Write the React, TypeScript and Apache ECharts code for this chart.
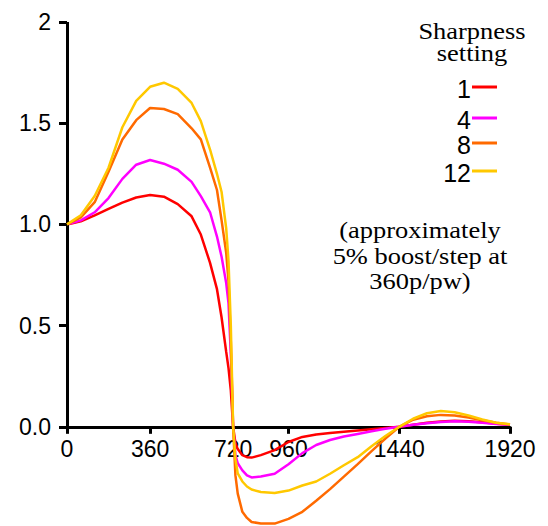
import React, { useEffect, useRef } from "react";
import * as echarts from "echarts";

// ---- data ----
const xValues = [0, 60, 120, 180, 240, 300, 360, 420, 480, 540, 580, 620, 650, 670, 690, 700, 710, 720, 730, 740, 760, 780, 800, 840, 900, 960, 1020, 1080, 1140, 1200, 1260, 1320, 1380, 1440, 1500, 1560, 1620, 1680, 1740, 1800, 1860, 1920];

const sharp1 = [1.0, 1.015, 1.045, 1.077, 1.108, 1.133, 1.145, 1.137, 1.1, 1.04, 0.95, 0.81, 0.68, 0.54, 0.37, 0.29, 0.18, 0.0, -0.08, -0.11, -0.14, -0.15, -0.152, -0.14, -0.115, -0.075, -0.05, -0.038, -0.03, -0.024, -0.018, -0.012, -0.006, 0.0, 0.01, 0.02, 0.026, 0.03, 0.028, 0.022, 0.015, 0.01];
const sharp4 = [1.0, 1.02, 1.06, 1.13, 1.225, 1.295, 1.318, 1.3, 1.27, 1.21, 1.14, 1.06, 0.94, 0.84, 0.71, 0.61, 0.36, 0.0, -0.14, -0.18, -0.215, -0.24, -0.25, -0.245, -0.232, -0.185, -0.13, -0.09, -0.065, -0.048, -0.035, -0.022, -0.01, 0.0, 0.01, 0.018, 0.024, 0.027, 0.025, 0.02, 0.014, 0.01];
const sharp8 = [1.0, 1.035, 1.11, 1.26, 1.42, 1.515, 1.575, 1.57, 1.545, 1.475, 1.42, 1.28, 1.17, 1.02, 0.86, 0.72, 0.42, 0.0, -0.24, -0.33, -0.42, -0.45, -0.47, -0.478, -0.478, -0.455, -0.42, -0.365, -0.308, -0.246, -0.184, -0.12, -0.058, 0.0, 0.035, 0.052, 0.059, 0.056, 0.046, 0.032, 0.02, 0.012];
const sharp12 = [1.0, 1.045, 1.14, 1.28, 1.48, 1.61, 1.68, 1.7, 1.67, 1.6, 1.51, 1.37, 1.25, 1.16, 0.98, 0.82, 0.5, 0.0, -0.16, -0.23, -0.27, -0.295, -0.31, -0.322, -0.327, -0.315, -0.29, -0.27, -0.232, -0.19, -0.15, -0.096, -0.045, 0.0, 0.04, 0.067, 0.078, 0.072, 0.056, 0.036, 0.02, 0.013];

const seriesNames = ["1", "4", "8", "12"];
const seriesValues = [sharp1, sharp4, sharp8, sharp12];
const seriesColors = ["#ff0000", "#ff00ff", "#ff6a00", "#ffc800"];

const xTickValues = [0, 360, 720, 960, 1440, 1920];
const yTickValues = [0, 0.5, 1, 1.5, 2];
const yMin = -0.49;
const yMax = 2;

const legendTitle = "Sharpness\nsetting";
const noteText = "(approximately\n5% boost/step at\n360p/pw)";

export default function App() {
  const ref = useRef<HTMLDivElement>(null);

  useEffect(() => {
    if (!ref.current) return;
    const chart = echarts.init(ref.current, undefined, { renderer: "svg" });
    const sans = "Arial, 'Liberation Sans', Helvetica, sans-serif";
    const serif = "'Times New Roman', 'Liberation Serif', Times, serif";

    const gridTop = 22;
    const gridBottom = 0;
    const plotH = 526 - gridTop - gridBottom;
    // distance from grid bottom to the zero line (axis placement only)
    const zeroOffset = -(plotH * (0 - yMin)) / (yMax - yMin);

    const series: any[] = seriesValues.map((vals, i) => ({
      type: "line",
      name: seriesNames[i],
      data: xValues.map((x, j) => [x, vals[j]]),
      showSymbol: false,
      smooth: false,
      lineStyle: { color: seriesColors[i], width: 2.5 },
      itemStyle: { color: seriesColors[i] },
      z: 3 + i,
    }));
    series[0].markLine = {
      silent: true,
      symbol: "none",
      label: { show: false },
      lineStyle: { color: "#000", width: 3, type: "solid" },
      data: [[{ coord: [0, 0] }, { coord: [0, 2] }]],
    };

    const legendTop = [87, 118, 143, 171];
    const graphic: any[] = [
      {
        type: "text",
        x: 472,
        y: 42,
        scaleX: 1.15,
        style: {
          text: legendTitle,
          font: `23px ${serif}`,
          fontSize: 23,
          fontFamily: serif,
          fill: "#000",
          textAlign: "center",
          verticalAlign: "middle",
          lineHeight: 22,
        },
      },
      {
        type: "text",
        x: 420,
        y: 256,
        scaleX: 1.15,
        style: {
          text: noteText,
          font: `23px ${serif}`,
          fontSize: 23,
          fontFamily: serif,
          fill: "#000",
          textAlign: "center",
          verticalAlign: "middle",
          lineHeight: 25.5,
        },
      },
    ];
    seriesNames.forEach((n, i) => {
      graphic.push({
        type: "text",
        x: 471,
        y: legendTop[i] + 2,
        style: {
          text: n,
          fontSize: 25,
          fontFamily: sans,
          fill: "#000",
          textAlign: "right",
          verticalAlign: "middle",
        },
      });
      graphic.push({
        type: "line",
        shape: { x1: 472, y1: legendTop[i], x2: 497, y2: legendTop[i] },
        style: { stroke: seriesColors[i], lineWidth: 3 },
      });
    });

    chart.setOption({
      animation: false,
      backgroundColor: "#fff",
      grid: { left: 67, right: 38, top: gridTop, bottom: gridBottom, containLabel: false, outerBoundsMode: "none" },
      xAxis: {
        type: "value",
        min: 0,
        max: 1920,
        position: "bottom",
        offset: zeroOffset,
        splitLine: { show: false },
        axisLine: { show: true, onZero: false, lineStyle: { color: "#000", width: 3 } },
        axisTick: {
          show: true,
          length: 7,
          inside: false,
          customValues: xTickValues,
          lineStyle: { color: "#000", width: 3 },
        },
        axisLabel: {
          customValues: xTickValues,
          color: "#000",
          fontSize: 23,
          fontFamily: sans,
          margin: 11,
          formatter: (v: number) => String(v),
        },
      },
      yAxis: {
        type: "value",
        min: yMin,
        max: yMax,
        splitLine: { show: false },
        axisLine: { show: false },
        axisTick: {
          show: true,
          length: 8,
          inside: false,
          customValues: yTickValues,
          lineStyle: { color: "#000", width: 3 },
        },
        axisLabel: {
          customValues: yTickValues,
          color: "#000",
          fontSize: 23,
          fontFamily: sans,
          margin: 16,
          formatter: (v: number) => (v === 2 ? "2" : v.toFixed(1)),
        },
      },
      series,
      graphic,
    });
    return () => chart.dispose();
  }, []);

  return (
    <div
      ref={ref}
      style={{ position: "fixed", left: 0, top: 0, width: 548, height: 526 }}
    />
  );
}
